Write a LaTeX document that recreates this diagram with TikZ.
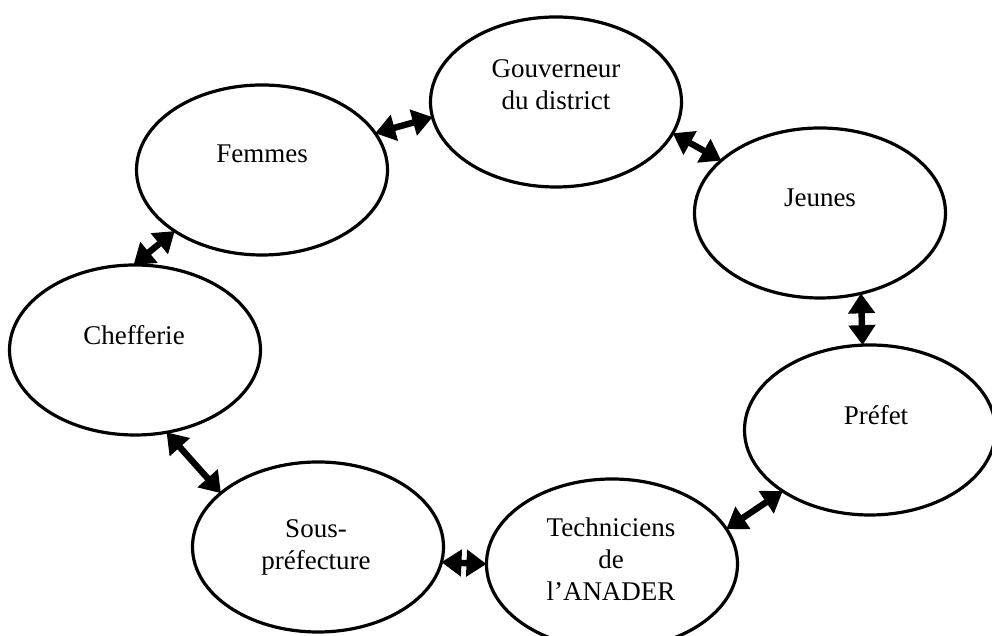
\documentclass[tikz,border=0pt]{standalone}
\usepackage{fontspec}
\setmainfont{Liberation Serif}
\usetikzlibrary{arrows.meta,shapes.geometric}
\tikzset{
  bulle/.style={ellipse, draw, line width=1.6pt, minimum width=125.5pt, minimum height=85pt, inner sep=0pt, outer sep=0pt},
  texte/.style={align=center, font=\fontsize{13.5}{16}\selectfont, inner sep=0pt},
  lien/.style={{Triangle[length=10pt,width=13pt]}-{Triangle[length=10pt,width=13pt]}, line width=3.2pt}
}
\begin{document}
\begin{tikzpicture}[x=0.5pt, y=0.5pt]
  \useasboundingbox (0,0) rectangle (992,636);
  \foreach \nom/\x/\y in {gouv/556/534, femmes/262/466, jeunes/820/423, chef/135/286, prefet/870/206, sous/318/89, tech/612/72} {
    \node[bulle] (\nom) at (\x,\y) {};
  }
  \foreach \nom/\x/\y/\t in {gouv/556/551/{Gouverneur\\du district}, femmes/262/482/Femmes, jeunes/820/438/Jeunes, chef/134/301/Chefferie, prefet/876/221/Préfet, sous/316/89/{Sous-\\préfecture}, tech/611/77/{Techniciens\\de\\l’ANADER}} {
    \node[texte] (\nom-txt) at (\x,\y) {\t};
  }
  \foreach \a/\b in {femmes.18/gouv.187, gouv.345/jeunes.152, femmes.215/chef.91, jeunes.297/prefet.95, chef.291/sous.151, prefet.215/tech.17, sous.353/tech.180} {
    \draw[lien] (\a) -- (\b);
  }
\end{tikzpicture}
\end{document}
